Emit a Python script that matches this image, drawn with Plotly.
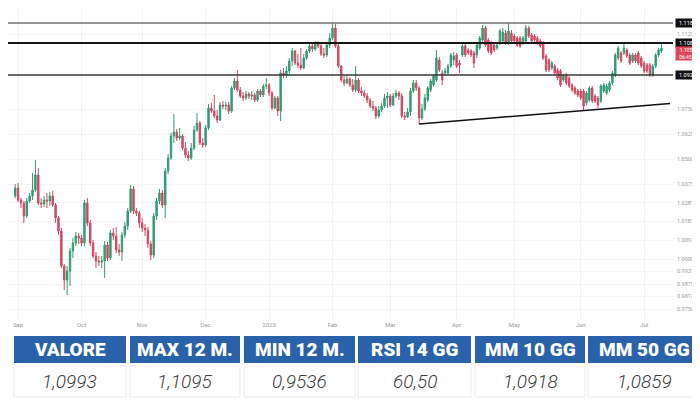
import plotly.graph_objects as go
import pandas as pd

# ---------------- data ----------------
dates = pd.bdate_range("2022-08-31", "2023-07-11").strftime("%Y-%m-%d").tolist()

open_ = [1.0315, 1.0355, 1.0295, 1.0280, 1.0215, 1.0290, 1.0315, 1.0345, 1.0420, 1.0280,
         1.0275, 1.0295, 1.0290, 1.0315, 1.0270, 1.0205, 1.0140, 0.9965, 0.9895, 0.9940,
         1.0040, 1.0080, 1.0115, 1.0105, 1.0080, 1.0280, 1.0180, 1.0080, 1.0015, 0.9990,
         0.9985, 0.9990, 1.0070, 1.0005, 1.0130, 1.0115, 1.0045, 1.0035, 1.0120, 1.0165,
         1.0240, 1.0350, 1.0240, 1.0230, 1.0180, 1.0155, 1.0145, 1.0075, 1.0020, 1.0215,
         1.0290, 1.0330, 1.0270, 1.0440, 1.0505, 1.0615, 1.0635, 1.0605, 1.0615, 1.0555,
         1.0520, 1.0505, 1.0555, 1.0645, 1.0680, 1.0580, 1.0570, 1.0655, 1.0755, 1.0740,
         1.0715, 1.0695, 1.0770, 1.0765, 1.0770, 1.0740, 1.0855, 1.0890, 1.0845, 1.0815,
         1.0805, 1.0825, 1.0815, 1.0820, 1.0795, 1.0840, 1.0820, 1.0865, 1.0870, 1.0830,
         1.0755, 1.0805, 1.0740, 1.0930, 1.0920, 1.0940, 1.0990, 1.1040, 1.0980, 1.0970,
         1.0955, 1.1005, 1.1040, 1.1065, 1.1050, 1.1080, 1.1065, 1.1025, 1.1020, 1.1070,
         1.1105, 1.1155, 1.1065, 1.0965, 1.0895, 1.0880, 1.0900, 1.0870, 1.0845, 1.0895,
         1.0840, 1.0830, 1.0815, 1.0795, 1.0765, 1.0755, 1.0715, 1.0745, 1.0765, 1.0805,
         1.0815, 1.0770, 1.0815, 1.0830, 1.0815, 1.0715, 1.0710, 1.0735, 1.0840, 1.0880,
         1.0855, 1.0705, 1.0750, 1.0795, 1.0845, 1.0870, 1.0895, 1.0995, 1.0930, 1.0930,
         1.0930, 1.0965, 1.0995, 1.1020, 1.0980, 1.1020, 1.1065, 1.1045, 1.1040, 1.1030,
         1.1020, 1.1055, 1.1095, 1.1155, 1.1095, 1.1080, 1.1070, 1.1055, 1.1080, 1.1090,
         1.1130, 1.1080, 1.1130, 1.1115, 1.1105, 1.1105, 1.1080, 1.1090, 1.1155, 1.1120,
         1.1115, 1.1105, 1.1090, 1.1080, 1.1015, 1.0995, 1.0955, 1.0965, 1.0945, 1.0940,
         1.0895, 1.0920, 1.0905, 1.0870, 1.0855, 1.0840, 1.0840, 1.0840, 1.0780, 1.0795,
         1.0855, 1.0815, 1.0805, 1.0790, 1.0840, 1.0830, 1.0845, 1.0880, 1.0920, 1.1005,
         1.1030, 1.1030, 1.1045, 1.1020, 1.0990, 1.1020, 1.1030, 1.1005, 1.0980, 1.0970,
         1.0970, 1.0920, 1.0965, 1.1020, 1.1040]

high = [1.0375, 1.0380, 1.0305, 1.0290, 1.0305, 1.0330, 1.0430, 1.0495, 1.0455, 1.0305,
        1.0315, 1.0330, 1.0335, 1.0340, 1.0280, 1.0215, 1.0155, 0.9975, 0.9965, 1.0055,
        1.0105, 1.0135, 1.0130, 1.0120, 1.0295, 1.0305, 1.0195, 1.0095, 1.0035, 1.0015,
        1.0015, 1.0090, 1.0085, 1.0145, 1.0155, 1.0160, 1.0075, 1.0135, 1.0185, 1.0255,
        1.0370, 1.0365, 1.0255, 1.0240, 1.0205, 1.0175, 1.0160, 1.0090, 1.0230, 1.0305,
        1.0350, 1.0345, 1.0455, 1.0525, 1.0630, 1.0725, 1.0650, 1.0655, 1.0625, 1.0585,
        1.0540, 1.0580, 1.0665, 1.0730, 1.0690, 1.0605, 1.0670, 1.0775, 1.0780, 1.0820,
        1.0745, 1.0785, 1.0790, 1.0785, 1.0785, 1.0865, 1.0905, 1.0945, 1.0860, 1.0835,
        1.0840, 1.0835, 1.0840, 1.0830, 1.0850, 1.0850, 1.0875, 1.0905, 1.0880, 1.0840,
        1.0815, 1.0815, 1.0945, 1.0955, 1.0965, 1.1005, 1.1055, 1.1045, 1.1025, 1.1055,
        1.1025, 1.1050, 1.1080, 1.1075, 1.1090, 1.1090, 1.1075, 1.1055, 1.1080, 1.1130,
        1.1180, 1.1175, 1.1075, 1.0970, 1.0915, 1.0920, 1.0910, 1.0900, 1.0965, 1.0905,
        1.0860, 1.0845, 1.0830, 1.0805, 1.0790, 1.0765, 1.0765, 1.0780, 1.0825, 1.0835,
        1.0825, 1.0830, 1.0845, 1.0840, 1.0830, 1.0735, 1.0755, 1.0855, 1.0895, 1.0895,
        1.0865, 1.0775, 1.0825, 1.0865, 1.0900, 1.0925, 1.1045, 1.1010, 1.0945, 1.0955,
        1.0975, 1.1030, 1.1035, 1.1030, 1.0995, 1.1075, 1.1075, 1.1055, 1.1050, 1.1040,
        1.1080, 1.1115, 1.1170, 1.1165, 1.1105, 1.1090, 1.1080, 1.1085, 1.1150, 1.1155,
        1.1145, 1.1180, 1.1145, 1.1125, 1.1115, 1.1115, 1.1115, 1.1170, 1.1165, 1.1130,
        1.1125, 1.1115, 1.1100, 1.1090, 1.1025, 1.1005, 1.0990, 1.0975, 1.0955, 1.0950,
        1.0925, 1.0930, 1.0915, 1.0880, 1.0865, 1.0850, 1.0850, 1.0850, 1.0840, 1.0865,
        1.0865, 1.0825, 1.0815, 1.0875, 1.0880, 1.0875, 1.0890, 1.0940, 1.1030, 1.1065,
        1.1040, 1.1080, 1.1055, 1.1030, 1.1030, 1.1030, 1.1040, 1.1015, 1.0990, 1.0980,
        1.0980, 1.0975, 1.1030, 1.1055, 1.1080]

low = [1.0305, 1.0285, 1.0255, 1.0180, 1.0205, 1.0280, 1.0295, 1.0335, 1.0270, 1.0255,
       1.0260, 1.0255, 1.0265, 1.0260, 1.0180, 1.0120, 0.9955, 0.9845, 0.9820, 0.9865,
       1.0005, 1.0065, 1.0075, 1.0065, 1.0065, 1.0165, 1.0065, 1.0005, 0.9955, 0.9965,
       0.9955, 0.9905, 0.9990, 0.9995, 1.0095, 1.0030, 1.0015, 0.9990, 1.0105, 1.0145,
       1.0230, 1.0225, 1.0215, 1.0155, 1.0135, 1.0115, 1.0055, 0.9995, 1.0005, 1.0195,
       1.0275, 1.0255, 1.0205, 1.0425, 1.0495, 1.0580, 1.0590, 1.0595, 1.0545, 1.0505,
       1.0490, 1.0495, 1.0545, 1.0635, 1.0570, 1.0555, 1.0560, 1.0645, 1.0730, 1.0705,
       1.0680, 1.0690, 1.0750, 1.0745, 1.0725, 1.0730, 1.0845, 1.0835, 1.0805, 1.0790,
       1.0795, 1.0800, 1.0795, 1.0785, 1.0785, 1.0810, 1.0810, 1.0850, 1.0815, 1.0745,
       1.0750, 1.0715, 1.0690, 1.0905, 1.0905, 1.0920, 1.0965, 1.0970, 1.0955, 1.0945,
       1.0950, 1.0995, 1.1030, 1.1035, 1.1040, 1.1055, 1.1015, 1.1005, 1.1010, 1.1055,
       1.1095, 1.1055, 1.0955, 1.0885, 1.0865, 1.0875, 1.0860, 1.0835, 1.0835, 1.0830,
       1.0815, 1.0805, 1.0780, 1.0755, 1.0740, 1.0700, 1.0705, 1.0735, 1.0755, 1.0755,
       1.0760, 1.0765, 1.0805, 1.0795, 1.0705, 1.0695, 1.0705, 1.0715, 1.0830, 1.0840,
       1.0675, 1.0695, 1.0740, 1.0785, 1.0835, 1.0860, 1.0885, 1.0935, 1.0870, 1.0915,
       1.0920, 1.0955, 1.0970, 1.0955, 1.0930, 1.1010, 1.1010, 1.1020, 1.1010, 1.0955,
       1.1005, 1.1045, 1.1085, 1.1060, 1.1030, 1.1020, 1.1035, 1.1045, 1.1070, 1.1075,
       1.1070, 1.1070, 1.1080, 1.1080, 1.1060, 1.1055, 1.1070, 1.1080, 1.1105, 1.1080,
       1.1085, 1.1070, 1.1055, 1.0995, 1.0935, 1.0935, 1.0945, 1.0920, 1.0895, 1.0860,
       1.0885, 1.0870, 1.0855, 1.0835, 1.0820, 1.0810, 1.0795, 1.0745, 1.0770, 1.0785,
       1.0780, 1.0780, 1.0755, 1.0780, 1.0830, 1.0820, 1.0835, 1.0870, 1.0910, 1.0995,
       1.0980, 1.1020, 1.1005, 1.0970, 1.0980, 1.0980, 1.0970, 1.0955, 1.0930, 1.0930,
       1.0910, 1.0910, 1.0955, 1.1010, 1.1030]

close = [1.0355, 1.0295, 1.0280, 1.0215, 1.0290, 1.0315, 1.0345, 1.0420, 1.0280, 1.0275,
         1.0295, 1.0290, 1.0315, 1.0270, 1.0205, 1.0140, 0.9965, 0.9895, 0.9940, 1.0040,
         1.0080, 1.0115, 1.0105, 1.0080, 1.0280, 1.0180, 1.0080, 1.0015, 0.9990, 0.9985,
         0.9990, 1.0070, 1.0005, 1.0130, 1.0115, 1.0045, 1.0035, 1.0120, 1.0165, 1.0240,
         1.0350, 1.0240, 1.0230, 1.0180, 1.0155, 1.0145, 1.0075, 1.0020, 1.0215, 1.0290,
         1.0330, 1.0270, 1.0440, 1.0505, 1.0615, 1.0635, 1.0605, 1.0615, 1.0555, 1.0520,
         1.0505, 1.0555, 1.0645, 1.0680, 1.0580, 1.0570, 1.0655, 1.0755, 1.0740, 1.0715,
         1.0695, 1.0770, 1.0765, 1.0770, 1.0740, 1.0855, 1.0890, 1.0845, 1.0815, 1.0805,
         1.0825, 1.0815, 1.0820, 1.0795, 1.0840, 1.0820, 1.0865, 1.0870, 1.0830, 1.0755,
         1.0805, 1.0740, 1.0930, 1.0920, 1.0940, 1.0990, 1.1040, 1.0980, 1.0970, 1.0955,
         1.1005, 1.1040, 1.1065, 1.1050, 1.1080, 1.1065, 1.1025, 1.1020, 1.1070, 1.1105,
         1.1155, 1.1065, 1.0965, 1.0895, 1.0880, 1.0900, 1.0870, 1.0845, 1.0895, 1.0840,
         1.0830, 1.0815, 1.0795, 1.0765, 1.0755, 1.0715, 1.0745, 1.0765, 1.0805, 1.0815,
         1.0770, 1.0815, 1.0830, 1.0815, 1.0715, 1.0710, 1.0735, 1.0840, 1.0880, 1.0855,
         1.0705, 1.0750, 1.0805, 1.0855, 1.0890, 1.0915, 1.1005, 1.0945, 1.0895, 1.0940,
         1.0965, 1.1020, 1.1015, 1.0965, 1.0970, 1.1065, 1.1020, 1.1030, 1.1020, 1.0980,
         1.1070, 1.1105, 1.1155, 1.1070, 1.1040, 1.1030, 1.1045, 1.1070, 1.1140, 1.1135,
         1.1080, 1.1140, 1.1090, 1.1090, 1.1070, 1.1065, 1.1105, 1.1155, 1.1115, 1.1090,
         1.1095, 1.1080, 1.1065, 1.1005, 1.0945, 1.0945, 1.0980, 1.0930, 1.0905, 1.0870,
         1.0915, 1.0880, 1.0865, 1.0845, 1.0830, 1.0820, 1.0805, 1.0765, 1.0830, 1.0855,
         1.0790, 1.0790, 1.0770, 1.0865, 1.0870, 1.0865, 1.0880, 1.0930, 1.1020, 1.1055,
         1.0990, 1.1055, 1.1015, 1.0980, 1.1020, 1.0990, 1.0980, 1.0965, 1.0940, 1.0940,
         1.0920, 1.0965, 1.1020, 1.1045, 1.1055]

level_values = [1.1180, 1.1080, 1.0920]
trend_dates = ["2023-03-15"]
trend_values = [1.0675, 1.0777]

month_starts = ["2022-09-01", "2022-10-03", "2022-11-01", "2022-12-01", "2023-01-02",
                "2023-02-01", "2023-03-01", "2023-04-03", "2023-05-01", "2023-06-01", "2023-07-03"]
month_labels = ["Sep", "Oct", "Nov", "Dec", "2023", "Feb", "Mar", "Apr", "May", "Jun", "Jul"]

price_ticks = [1.125, 1.1125, 1.075, 1.0625, 1.05, 1.0375, 1.028125, 1.01875,
               1.009375, 1.0, 0.99375, 0.9875, 0.98125, 0.975]

table_headers = ["VALORE", "MAX 12 M.", "MIN 12 M.", "RSI 14 GG", "MM 10 GG", "MM 50 GG"]
table_values = ["1,0993", "1,1095", "0,9536", "60,50", "1,0918", "1,0859"]
countdown = "06:45:08"

# ---------------- figure ----------------
W, H = 700, 400
UP, DOWN = "#339c72", "#cf4a63"

fig = go.Figure()
fig.add_trace(go.Candlestick(
    x=dates, open=open_, high=high, low=low, close=close,
    increasing=dict(line=dict(color=UP, width=1), fillcolor=UP),
    decreasing=dict(line=dict(color=DOWN, width=1), fillcolor=DOWN),
    whiskerwidth=0, hoverinfo="skip", showlegend=False,
))

PLOT_R = 665 / W
PLOT_B = 1 - 312 / H

shapes = []
level_styles = [("#707070", 1.5), ("#151515", 2.0), ("#383838", 1.5)]
for lv, (col, wd) in zip(level_values, level_styles):
    shapes.append(dict(type="line", xref="paper", yref="y", x0=0, x1=PLOT_R,
                       y0=lv, y1=lv, line=dict(color=col, width=wd), layer="above"))

i_start = dates.index(trend_dates[0])
i_end = len(dates) - 1 + 3
shapes.append(dict(type="line", xref="x", yref="y", x0=i_start, x1=i_end,
                   y0=trend_values[0], y1=trend_values[1],
                   line=dict(color="#111111", width=1.5)))

annotations = []
for lv in level_values:
    annotations.append(dict(x=667 / W, xref="paper", y=lv, yref="y", xanchor="left",
                            yanchor="middle", text=f"{lv:.5f}", showarrow=False,
                            bgcolor="#111111", borderpad=0, width=26, height=8,
                            align="center", valign="middle",
                            font=dict(color="white", size=5.5, family="Roboto")))
annotations.append(dict(x=667 / W, xref="paper", y=close[-1], yref="y", xanchor="left",
                        yanchor="top", yshift=2, text=f"{close[-1]:.5f}<br>{countdown}",
                        showarrow=False, bgcolor="#e0475a", borderpad=0, width=26, height=13,
                        align="center", valign="middle",
                        font=dict(color="white", size=5, family="Roboto")))

cells_x = [(6, 118), (122, 232), (236, 347), (350, 463), (467, 577), (580, 692)]
hy0, hy1 = 328, 355
vy0, vy1 = 358, 388
for (cx0, cx1), hd, val in zip(cells_x, table_headers, table_values):
    shapes.append(dict(type="rect", xref="paper", yref="paper",
                       x0=cx0 / W, x1=cx1 / W, y0=1 - hy1 / H, y1=1 - hy0 / H,
                       fillcolor="#2a62a9", line=dict(width=0)))
    shapes.append(dict(type="rect", xref="paper", yref="paper",
                       x0=cx0 / W, x1=cx1 / W, y0=1 - (vy1 + 1) / H, y1=1 - vy0 / H,
                       fillcolor="white", line=dict(color="#ececec", width=1)))
    annotations.append(dict(x=(cx0 + cx1) / 2 / W, y=1 - (hy0 + hy1) / 2 / H,
                            xref="paper", yref="paper", showarrow=False,
                            text=hd, xanchor="center", yanchor="middle",
                            font=dict(family="Roboto", size=19, color="white", weight=900)))
    annotations.append(dict(x=(cx0 + cx1) / 2 / W, y=1 - (vy0 + vy1) / 2 / H,
                            xref="paper", yref="paper", showarrow=False,
                            text=val, xanchor="center", yanchor="middle",
                            font=dict(family="Roboto", size=19, weight=300,
                                      color="#3c3c3c", style="italic")))

fig.update_layout(
    width=W, height=H,
    margin=dict(l=0, r=0, t=0, b=0),
    paper_bgcolor="white", plot_bgcolor="white",
    showlegend=False,
    shapes=shapes, annotations=annotations,
    xaxis=dict(type="category", domain=[0, PLOT_R], range=[-2.5, 228],
               rangeslider=dict(visible=False),
               tickmode="array", tickvals=month_starts, ticktext=month_labels,
               tickfont=dict(size=6, color="#9a9a9a", family="Roboto"),
               showgrid=True, gridcolor="#f2f2f2", gridwidth=1,
               showline=False, zeroline=False, ticks="", automargin=False,
               anchor="y"),
    yaxis=dict(domain=[PLOT_B, 1], range=[1.1255 - 312 / 2000, 1.1255],
               side="right", tickmode="array", tickvals=price_ticks,
               ticktext=[f"{v:.5f}" for v in price_ticks],
               tickfont=dict(size=5.5, color="#9a9a9a", family="Roboto"),
               showgrid=True, gridcolor="#f4f4f4", gridwidth=1,
               showline=False, zeroline=False, ticks="", automargin=False,
               ticklabelstandoff=3),
)

fig.write_html("out.html", config={"displayModeBar": False})
